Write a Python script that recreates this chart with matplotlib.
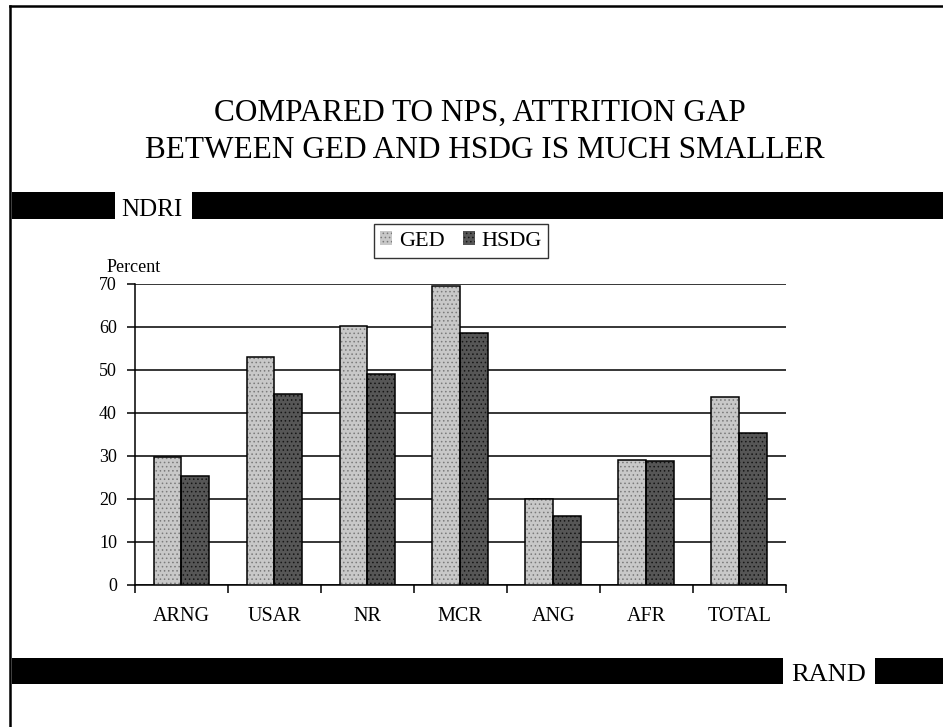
import matplotlib.pyplot as plt
import numpy as np
from matplotlib.patches import Rectangle, Patch
from matplotlib.lines import Line2D

categories = ['ARNG', 'USAR', 'NR', 'MCR', 'ANG', 'AFR', 'TOTAL']
ged = [29.8, 53.0, 60.2, 69.5, 19.9, 29.0, 43.6]
hsdg = [25.2, 44.4, 49.0, 58.5, 15.9, 28.8, 35.4]
yticks = [0, 10, 20, 30, 40, 50, 60, 70]
title_lines = ['COMPARED TO NPS, ATTRITION GAP',
               'BETWEEN GED AND HSDG IS MUCH SMALLER']

plt.rcParams['font.family'] = ['Liberation Serif', 'DejaVu Serif']
plt.rcParams['hatch.linewidth'] = 0.6

W, H = 943, 727
fig = plt.figure(figsize=(W / 100, H / 100), dpi=100)

def fx(px):
    return px / W

def fy(py):
    return 1 - py / H

# page border (left and top)
fig.add_artist(Line2D([fx(10), fx(10)], [fy(6), 0], color='black', lw=1.8))
fig.add_artist(Line2D([fx(10), 1], [fy(6), fy(6)], color='black', lw=1.8))

# title
fig.text(0.509, fy(121), title_lines[0], ha='center', va='baseline', fontsize=22.5)
fig.text(0.514, fy(158), title_lines[1], ha='center', va='baseline', fontsize=22.5)

# black bands
def band(x0, x1, y0, y1):
    fig.add_artist(Rectangle((fx(x0), fy(y1)), fx(x1) - fx(x0), fy(y0) - fy(y1),
                             facecolor='black', edgecolor='none'))

band(12, 115, 192, 219)
band(192, 943, 192, 219)
fig.text(fx(121), fy(216), 'NDRI', ha='left', va='baseline', fontsize=18)
band(12, 783, 658, 684)
band(875, 943, 658, 684)
fig.text(fx(791), fy(681), 'RAND', ha='left', va='baseline', fontsize=19)

# chart
ax = fig.add_axes([fx(135), fy(584.5), fx(785.7) - fx(135), fy(284) - fy(584.5)])
x = np.arange(len(categories))
w = 0.3
ged_face, ged_dot = '#c8c8c8', '#7a7a7a'
hsdg_face, hsdg_dot = '#565656', '#151515'

plt.rcParams['hatch.color'] = ged_dot
ax.bar(x - w / 2, ged, w, color=ged_face, hatch='....', zorder=3)
plt.rcParams['hatch.color'] = hsdg_dot
ax.bar(x + w / 2, hsdg, w, color=hsdg_face, hatch='....', zorder=3)
# outlines
ax.bar(x - w / 2, ged, w, fill=False, edgecolor='black', linewidth=1.1, zorder=4)
ax.bar(x + w / 2, hsdg, w, fill=False, edgecolor='black', linewidth=1.1, zorder=4)

ax.set_xlim(-0.5, len(categories) - 0.5)
ax.set_ylim(0, 70)
ax.set_yticks(yticks)
ax.yaxis.grid(True, color='black', linewidth=1.1)
ax.set_axisbelow(True)
for s in ['top', 'right']:
    ax.spines[s].set_visible(False)
ax.spines['left'].set_linewidth(1.1)
ax.spines['bottom'].set_linewidth(1.1)

ax.set_xticks(np.arange(len(categories) + 1) - 0.5)
ax.set_xticklabels([])
ax.set_xticks(x, minor=True)
ax.set_xticklabels(categories, minor=True, fontsize=14.5)
ax.tick_params(axis='x', which='major', direction='out', length=6, width=1.1)
ax.tick_params(axis='x', which='minor', length=0, pad=16)
ax.tick_params(axis='y', direction='out', length=6, width=1.1, pad=7, labelsize=13)

fig.text(fx(107), fy(272), 'Percent', ha='left', va='baseline', fontsize=13)

plt.rcParams['hatch.color'] = ged_dot
h1 = Patch(facecolor=ged_face, hatch='....', linewidth=0)
plt.rcParams['hatch.color'] = hsdg_dot
h2 = Patch(facecolor=hsdg_face, hatch='....', linewidth=0)
leg = fig.legend([h1, h2], ['GED', 'HSDG'], loc='center', ncol=2,
                 bbox_to_anchor=(fx(461), fy(241)), fontsize=16,
                 frameon=True, fancybox=False, edgecolor='black',
                 handlelength=0.55, handleheight=0.6, handletextpad=0.3,
                 columnspacing=0.8, borderpad=0.3, borderaxespad=0)
leg.get_frame().set_linewidth(1)

fig.savefig('out.png', dpi=100, facecolor='white')
